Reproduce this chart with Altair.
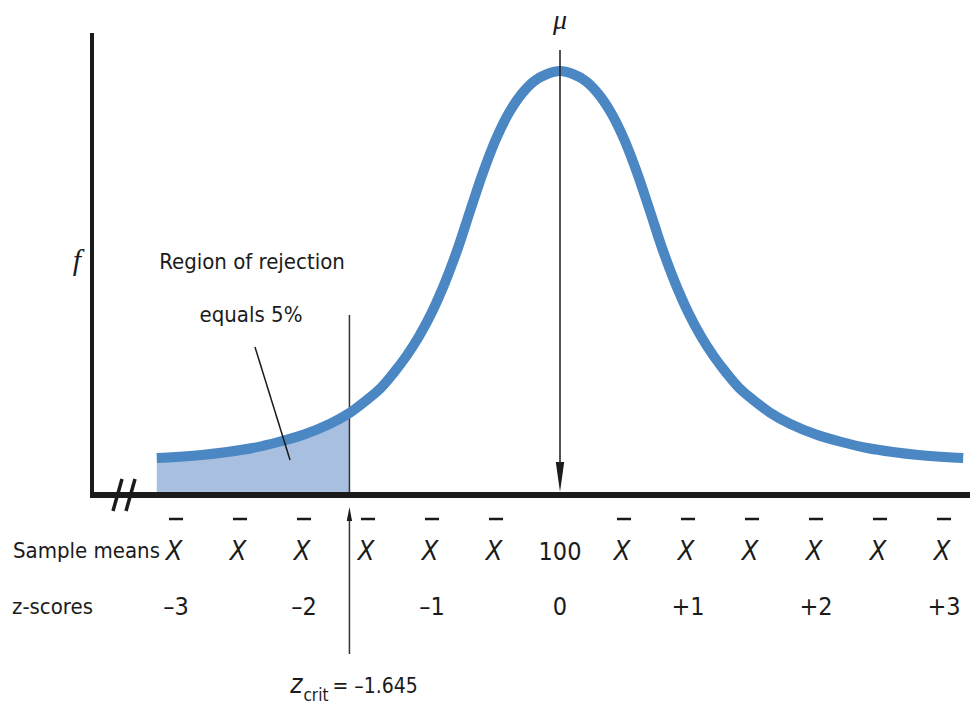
import altair as alt
import pandas as pd

# Sampling distribution of the mean, traced as (z, height) pairs
curve_z = [-3.15, -3.0, -2.8, -2.6, -2.4, -2.2, -2.0, -1.8, -1.645, -1.5,
           -1.4, -1.3, -1.2, -1.1, -1.0, -0.9, -0.8, -0.7, -0.6, -0.5,
           -0.4, -0.3, -0.2, -0.1, 0.0,
           0.1, 0.2, 0.3, 0.4, 0.5, 0.6, 0.7, 0.8, 0.9, 1.0,
           1.1, 1.2, 1.3, 1.4, 1.5, 1.645, 1.8, 2.0, 2.2, 2.4,
           2.6, 2.8, 3.0, 3.15]
curve_f = [36, 37, 39, 42, 46, 52, 59.5, 70, 81, 95,
           106, 121, 138, 158, 182, 211, 245, 284, 322, 355,
           381, 400, 413, 420, 423,
           420, 413, 400, 381, 355, 322, 284, 245, 211, 182,
           158, 138, 121, 106, 95, 81, 70, 59.5, 52, 46,
           42, 39, 37, 36]

z_crit = -1.645
mu_z = 0.0

# Row of sample means (X-bar at each half standard error, 100 at the mean)
mean_z = [-3, -2.5, -2, -1.5, -1, -0.5, 0, 0.5, 1, 1.5, 2, 2.5, 3]
mean_text = ["X", "X", "X", "X", "X", "X", "100", "X", "X", "X", "X", "X", "X"]

# Row of z-scores
score_z = [-3, -2, -1, 0, 1, 2, 3]
score_text = ["–3", "–2", "–1", "0", "+1", "+2", "+3"]

# Pointer from the annotation down into the shaded tail
leader_z = [-2.383]
leader_z2 = [-2.109]

FONT = "DejaVu Sans Condensed, Liberation Sans, sans-serif"
SERIF = "Liberation Serif, DejaVu Serif, serif"
INK = "#1b1b1b"
BLUE = "#4b87c3"
FILL = "#a9bfe0"
SMOOTH = "catmull-rom"

W, H = 970, 704
xs = alt.Scale(domain=[-4.375, 3.203125], nice=False, zero=False)
ys = alt.Scale(domain=[-210, 494], nice=False, zero=False)


def X(field="z"):
    return alt.X(f"{field}:Q", scale=xs, axis=None)


def Y(field="f"):
    return alt.Y(f"{field}:Q", scale=ys, axis=None)


curve = pd.DataFrame({"z": curve_z, "f": curve_f})
tail = curve[curve["z"] <= z_crit + 1e-9]
single = pd.DataFrame({"z": [0.0]})
crit_df = pd.DataFrame({"z": [z_crit]})
mu_df = pd.DataFrame({"z": [mu_z]})
mean_df = pd.DataFrame({"z": mean_z, "t": mean_text})
xbar_df = mean_df[mean_df["t"] == "X"]
hundred_df = mean_df[mean_df["t"] != "X"]
score_df = pd.DataFrame({"z": score_z, "t": score_text})
leader_df = pd.DataFrame({"z": leader_z, "z2": leader_z2})

# Shaded rejection region under the left tail
area = alt.Chart(tail).mark_area(color=FILL, interpolate=SMOOTH).encode(
    x=X(), y=Y(), y2=alt.datum(0)
)

crit_line = alt.Chart(crit_df).mark_rule(color="#333333", strokeWidth=1.5).encode(
    x=X(), y=alt.value(315), y2=alt.value(494)
)

curve_line = alt.Chart(curve).mark_line(
    color=BLUE, strokeWidth=10, strokeCap="butt", interpolate=SMOOTH
).encode(x=X(), y=Y())

# Axis frame with a break mark
y_axis = alt.Chart(single).mark_rule(color=INK, strokeWidth=4).encode(
    x=alt.value(92), y=alt.value(33), y2=alt.value(498)
)
x_axis = alt.Chart(single).mark_rule(color=INK, strokeWidth=6).encode(
    x=alt.value(90), x2=alt.value(970), y=alt.value(495)
)
break1 = alt.Chart(single).mark_rule(color=INK, strokeWidth=3.5).encode(
    x=alt.value(113), x2=alt.value(122), y=alt.value(511), y2=alt.value(479)
)
break2 = alt.Chart(single).mark_rule(color=INK, strokeWidth=3.5).encode(
    x=alt.value(126), x2=alt.value(135), y=alt.value(511), y2=alt.value(479)
)

# Arrow from mu down to the axis
mu_line = alt.Chart(mu_df).mark_rule(color=INK, strokeWidth=1.5).encode(
    x=X(), y=alt.value(50), y2=alt.value(468)
)
mu_head = alt.Chart(mu_df).mark_point(
    shape="M-0.28,-1L0.28,-1L0,1Z", size=900, filled=True, opacity=1,
    color=INK, strokeWidth=0
).encode(x=X(), y=alt.value(477))

# Arrow from the critical value label up to the axis
crit_arrow = alt.Chart(crit_df).mark_rule(color="#333333", strokeWidth=1.5).encode(
    x=X(), y=alt.value(518), y2=alt.value(654)
)
crit_head = alt.Chart(crit_df).mark_point(
    shape="M-0.38,1L0.38,1L0,-1Z", size=196, filled=True, opacity=1,
    color=INK, strokeWidth=0
).encode(x=X(), y=alt.value(514))

leader = alt.Chart(leader_df).mark_rule(color=INK, strokeWidth=1.5).encode(
    x=X(), x2=alt.X2("z2:Q"), y=alt.value(347), y2=alt.value(460)
)

# Text
mu_text = alt.Chart(mu_df).mark_text(
    text="μ", font=SERIF, fontStyle="italic", fontSize=28, color=INK,
    align="center", baseline="alphabetic"
).encode(x=X(), y=alt.value(29))

f_text = alt.Chart(single).mark_text(
    text="f", font=SERIF, fontStyle="italic", fontSize=30, color=INK,
    align="center", baseline="alphabetic"
).encode(x=alt.value(77), y=alt.value(270))

region1 = alt.Chart(single).mark_text(
    text="Region of rejection", font=FONT, fontSize=22, color=INK,
    align="center", baseline="alphabetic"
).encode(x=alt.value(252), y=alt.value(269))
region2 = alt.Chart(single).mark_text(
    text="equals 5%", font=FONT, fontSize=22, color=INK,
    align="center", baseline="alphabetic"
).encode(x=alt.value(251), y=alt.value(322))

row1_title = alt.Chart(single).mark_text(
    text="Sample means", font=FONT, fontSize=22, color=INK,
    align="left", baseline="alphabetic"
).encode(x=alt.value(13), y=alt.value(558))
row2_title = alt.Chart(single).mark_text(
    text="z-scores", font=FONT, fontSize=22, color=INK,
    align="left", baseline="alphabetic"
).encode(x=alt.value(12), y=alt.value(614))

xbar_glyph = alt.Chart(xbar_df).mark_text(
    font=FONT, fontStyle="italic", fontSize=27, color=INK,
    align="center", baseline="alphabetic", dx=-2
).encode(x=X(), y=alt.value(560), text="t:N")
xbar_bar = alt.Chart(xbar_df).mark_point(
    shape="M-1,-0.18L1,-0.18L1,0.18L-1,0.18Z", size=196, filled=True,
    opacity=1, color=INK, strokeWidth=0
).encode(x=X(), y=alt.value(519))
hundred = alt.Chart(hundred_df).mark_text(
    font=FONT, fontSize=25, color=INK, align="center", baseline="alphabetic"
).encode(x=X(), y=alt.value(560), text="t:N")

scores = alt.Chart(score_df).mark_text(
    font=FONT, fontSize=25, color=INK, align="center", baseline="alphabetic"
).encode(x=X(), y=alt.value(615), text="t:N")

crit_z = alt.Chart(crit_df).mark_text(
    text="z", font=FONT, fontStyle="italic", fontSize=26, color=INK,
    align="right", baseline="alphabetic", dx=-47
).encode(x=X(), y=alt.value(693))
crit_sub = alt.Chart(crit_df).mark_text(
    text="crit", font=FONT, fontSize=17, color=INK,
    align="left", baseline="alphabetic", dx=-46
).encode(x=X(), y=alt.value(701))
crit_val = alt.Chart(crit_df).mark_text(
    text="= –1.645", font=FONT, fontSize=21, color=INK,
    align="left", baseline="alphabetic", dx=-17
).encode(x=X(), y=alt.value(693))

chart = alt.layer(
    area, crit_line, curve_line, y_axis, x_axis, break1, break2,
    mu_line, mu_head, crit_arrow, crit_head, leader,
    mu_text, f_text, region1, region2, row1_title, row2_title,
    xbar_glyph, xbar_bar, hundred, scores, crit_z, crit_sub, crit_val
).properties(
    width=W, height=H, padding=0, background="white",
    autosize=alt.AutoSizeParams(type="none")
).configure_view(stroke=None)

chart.save("out.html", embed_options={"renderer": "svg", "actions": False})
